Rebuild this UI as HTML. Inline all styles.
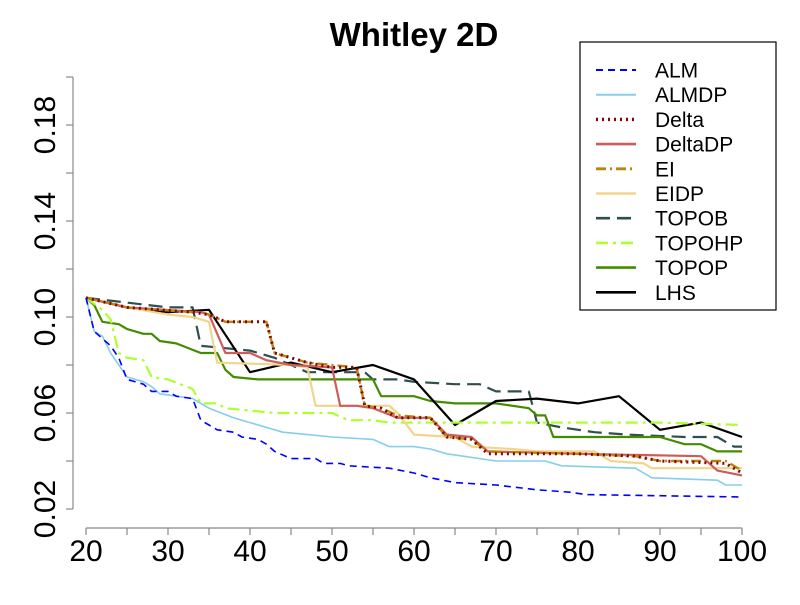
<!DOCTYPE html>
<html><head><meta charset="utf-8"><style>
body{margin:0;background:#fff;}
svg text{font-family:"Liberation Sans",sans-serif;}
</style></head><body>
<svg id="chart" width="800" height="600" viewBox="0 0 800 600">
<rect width="800" height="600" fill="#fff"/>
<text x="414" y="46" text-anchor="middle" font-size="33" font-weight="bold">Whitley 2D</text>
<g id="axes"></g>
<g id="series"></g>
<g id="legend"></g>
</svg>
<script>
const xTicks=[20,30,40,50,60,70,80,90,100];
const yTicks=[0.02,0.06,0.10,0.14,0.18];
const seriesNames=["ALM","ALMDP","Delta","DeltaDP","EI","EIDP","TOPOB","TOPOHP","TOPOP","LHS"];
const xALM=[20,21,23,24,25,27,28,30,31,33,34,35,36,38,39,41,42,43,45,48,49,51,52,57,60,62,65,70,75,79,81,100];
const yALM=[0.108,0.094,0.088,0.083,0.074,0.072,0.069,0.069,0.067,0.066,0.057,0.055,0.053,0.052,0.050,0.049,0.047,0.044,0.041,0.041,0.039,0.039,0.038,0.037,0.035,0.033,0.031,0.030,0.028,0.027,0.026,0.025];
const xALMDP=[20,21,22,23,25,27,28,29,31,33,35,38,40,42,44,47,50,55,57,60,62,64,66,70,76,78,87,89,97,98,100];
const yALMDP=[0.108,0.094,0.092,0.085,0.075,0.073,0.071,0.068,0.067,0.066,0.062,0.058,0.056,0.054,0.052,0.051,0.050,0.049,0.046,0.046,0.045,0.043,0.042,0.040,0.040,0.038,0.037,0.033,0.032,0.030,0.030];
const xDelta=[20,25,33,35,37,42,43,45,47,50,53,54,56,58,62,64,67,69,80,87,90,98,100];
const yDelta=[0.108,0.104,0.102,0.101,0.098,0.098,0.085,0.083,0.081,0.079,0.079,0.063,0.062,0.058,0.058,0.050,0.049,0.043,0.043,0.042,0.040,0.039,0.035];
const xDeltaDP=[20,25,34,35,37,40,42,45,50,51,53,55,58,62,64,67,69,80,95,97,100];
const yDeltaDP=[0.108,0.104,0.102,0.101,0.085,0.085,0.082,0.080,0.079,0.063,0.063,0.062,0.058,0.058,0.051,0.050,0.044,0.043,0.042,0.036,0.034];
const xEI=[20,25,33,35,37,42,43,45,47,50,53,54,56,58,62,64,67,69,80,87,90,98,100];
const yEI=[0.108,0.104,0.102,0.101,0.098,0.098,0.085,0.083,0.081,0.080,0.079,0.063,0.062,0.059,0.058,0.050,0.049,0.044,0.043,0.042,0.040,0.040,0.036];
const xEIDP=[20,25,30,33,35,36,45,47,48,57,58,60,65,67,72,75,82,84,88,89,100];
const yEIDP=[0.108,0.104,0.101,0.100,0.098,0.081,0.080,0.079,0.063,0.063,0.060,0.051,0.050,0.046,0.045,0.044,0.044,0.040,0.039,0.037,0.037];
const xTOPOB=[20,25,30,33,34,37,40,43,45,47,54,55,58,60,65,68,70,74,75,78,82,86,93,97,99,100];
const yTOPOB=[0.108,0.106,0.104,0.104,0.088,0.087,0.086,0.083,0.080,0.077,0.077,0.074,0.074,0.073,0.072,0.072,0.069,0.069,0.056,0.054,0.052,0.051,0.050,0.050,0.046,0.046];
const xTOPOHP=[20,22,23,24,25,27,28,30,33,34,36,37,40,43,50,52,55,57,90,100];
const yTOPOHP=[0.108,0.103,0.099,0.085,0.083,0.082,0.075,0.074,0.070,0.064,0.064,0.062,0.061,0.060,0.060,0.057,0.057,0.056,0.056,0.055];
const xTOPOP=[20,21,22,24,25,27,28,29,31,34,36,37,38,41,45,55,56,60,62,65,70,74,75,76,77,90,93,95,97,100];
const yTOPOP=[0.108,0.105,0.098,0.097,0.095,0.093,0.093,0.090,0.089,0.085,0.085,0.078,0.075,0.074,0.074,0.074,0.067,0.067,0.065,0.064,0.064,0.062,0.059,0.059,0.050,0.050,0.047,0.047,0.044,0.044];
const xLHS=[20,25,30,35,40,45,50,55,60,65,70,75,80,85,90,95,100];
const yLHS=[0.108,0.104,0.102,0.103,0.077,0.081,0.077,0.080,0.074,0.055,0.065,0.066,0.064,0.067,0.053,0.056,0.050];

const NS="http://www.w3.org/2000/svg";
function X(v){return 86+(v-20)*8.2;}
function Y(v){return 509-(v-0.02)*2400;}
function mk(tag,attrs,parent){const e=document.createElementNS(NS,tag);for(const k in attrs)e.setAttribute(k,attrs[k]);parent.appendChild(e);return e;}
const axes=document.getElementById('axes');
let ln=mk('line',{x1:73,y1:Y(0.02),x2:73,y2:Y(0.2),stroke:'#888','stroke-width':1.2},axes);


for(let v=0.02;v<=0.2001;v+=0.02){
  const t=mk('line',{x1:66,y1:Y(v),x2:73,y2:Y(v),stroke:'#888','stroke-width':1.2},axes);
  
  
}
yTicks.forEach(v=>{
  const t=mk('text',{x:0,y:0,'font-size':30,'text-anchor':'middle',transform:`translate(55,${Y(v)}) rotate(-90)`},axes);
  t.textContent=v.toFixed(2);
  
  
});
ln=mk('line',{x1:X(20),y1:528,x2:X(100),y2:528,stroke:'#888','stroke-width':1.2},axes);


for(let v=20;v<=100;v+=5){
  const t=mk('line',{x1:X(v),y1:528,x2:X(v),y2:535,stroke:'#888','stroke-width':1.2},axes);
  
  
}
xTicks.forEach(v=>{
  const t=mk('text',{x:X(v),y:561,'font-size':30,'text-anchor':'middle'},axes);
  t.textContent=v;
  
  
});
const styles={
 ALM:{c:'#0000ff',w:1.6,d:'7,5',xs:xALM,ys:yALM},
 ALMDP:{c:'#87ceeb',w:1.6,d:'',xs:xALMDP,ys:yALMDP},
 Delta:{c:'#8b0000',w:3,d:'2,4',xs:xDelta,ys:yDelta},
 DeltaDP:{c:'#cd5c5c',w:2.2,d:'',xs:xDeltaDP,ys:yDeltaDP},
 EI:{c:'#b8860b',w:2.4,d:'10,4,2,4',xs:xEI,ys:yEI},
 EIDP:{c:'#f0d58c',w:2.2,d:'',xs:xEIDP,ys:yEIDP},
 TOPOB:{c:'#2f4f4f',w:2.2,d:'14,7',xs:xTOPOB,ys:yTOPOB},
 TOPOHP:{c:'#adff2f',w:2.2,d:'12,5,3,5',xs:xTOPOHP,ys:yTOPOHP},
 TOPOP:{c:'#458b00',w:2.2,d:'',xs:xTOPOP,ys:yTOPOP},
 LHS:{c:'#000',w:2.2,d:'',xs:xLHS,ys:yLHS}
};
const sg=document.getElementById('series');
const order=["TOPOB","TOPOP","LHS","TOPOHP","EIDP","DeltaDP","EI","Delta","ALMDP","ALM"];
order.forEach(n=>{
  const s=styles[n];
  const pts=s.xs.map((x,i)=>X(x).toFixed(1)+','+Y(s.ys[i]).toFixed(1)).join(' ');
  const p=mk('polyline',{points:pts,fill:'none',stroke:s.c,'stroke-width':s.w,'stroke-dasharray':s.d,'stroke-linejoin':'round'},sg);
  
  
});
const lg=document.getElementById('legend');
const box=mk('rect',{x:580,y:42,width:196,height:268,fill:'#fff',stroke:'#000','stroke-width':1.2},lg);


seriesNames.forEach((n,i)=>{
  const s=styles[n];const y=70+i*24.7;
  const g=mk('g',{},lg);
  
  
  mk('line',{x1:596,y1:y,x2:636,y2:y,stroke:s.c,'stroke-width':s.w+0.4,'stroke-dasharray':s.d},g);
  const t=mk('text',{x:655,y:y+7.5,'font-size':21},g);
  t.textContent=n;
});
</script>
</body></html>
